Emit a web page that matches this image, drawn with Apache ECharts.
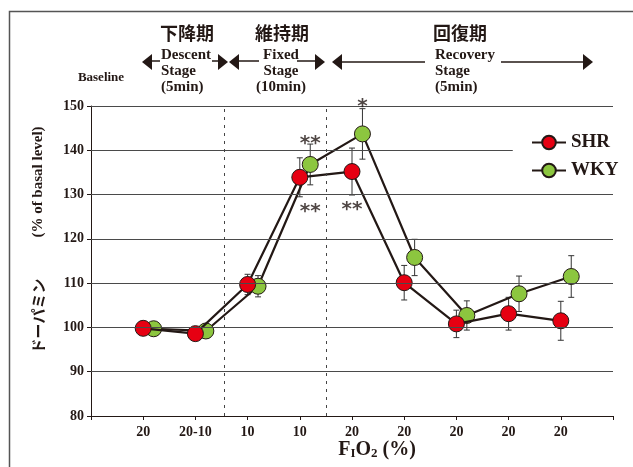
<!DOCTYPE html>
<html>
<head>
<meta charset="utf-8">
<script src="https://cdn.jsdelivr.net/npm/echarts@6/dist/echarts.min.js"></script>
<style>
  html, body { margin: 0; padding: 0; background: #fff; }
  #chart { width: 633px; height: 467px; }
</style>
</head>
<body>
<div id="chart"></div>
<script>
// FiO2 step sequence at each sampling point
const xTickLabels = ['20', '20-10', '10', '10', '20', '20', '20', '20', '20'];
const yTicks = [80, 90, 100, 110, 120, 130, 140, 150];

// Dopamine, % of basal level (mean and error)
const shrMean = [99.8, 98.6, 109.7, 133.9, 135.2, 110.1, 100.8, 103.1, 101.5];
const shrErr  = [1.0, 1.0, 2.3, 4.4, 5.3, 3.9, 3.1, 3.7, 4.4];
const wkyMean = [99.7, 99.2, 109.3, 136.8, 143.7, 115.8, 102.7, 107.6, 111.5];
const wkyErr  = [1.0, 1.0, 2.4, 4.6, 5.7, 4.1, 3.3, 4.0, 4.7];

// Significance marks: point index, group, side of the error bar
const marks = [
  { idx: 3, group: 'WKY', side: 'top', text: '**' },
  { idx: 4, group: 'WKY', side: 'top', text: '*' },
  { idx: 3, group: 'SHR', side: 'bottom', text: '**', shift: 'WKY' },
  { idx: 4, group: 'SHR', side: 'bottom', text: '**' }
];

const INK = '#231815';
const SERIF = '"Liberation Serif", "Times New Roman", serif';
const WKY_SHIFT = 0.2;   // WKY points are drawn slightly right of each sampling point

const xOf = (i, shift) => i + 1 + shift;
const shrData = shrMean.map((v, i) => [xOf(i, 0), v]);
const wkyData = wkyMean.map((v, i) => [xOf(i, WKY_SHIFT), v]);
const errData = shrMean.map((v, i) => [xOf(i, 0), v - shrErr[i], v + shrErr[i]])
  .concat(wkyMean.map((v, i) => [xOf(i, WKY_SHIFT), v - wkyErr[i], v + wkyErr[i]]));

const groups = { SHR: { mean: shrMean, err: shrErr, shift: 0 }, WKY: { mean: wkyMean, err: wkyErr, shift: WKY_SHIFT } };
const markData = marks.map(m => {
  const g = groups[m.group];
  const y = m.side === 'top' ? g.mean[m.idx] + g.err[m.idx] : g.mean[m.idx] - g.err[m.idx];
  const shift = m.shift ? groups[m.shift].shift : g.shift;
  const dy = m.side === 'top' ? (m.text === '*' ? -2 : 0) : 15;
  return { value: [xOf(m.idx, shift), y], label: { formatter: m.text, offset: [0, dy] } };
});

// Horizontal grid lines; the 140 line stops short of the legend
const gridLines = yTicks.filter(v => v > 80).map(v => [
  { coord: [0, v] }, { coord: [v === 140 ? 8.08 : 10, v] }
]);
const stageBounds = [2.55, 4.5];

function renderErr(params, api) {
  const x = api.value(0);
  const lo = api.coord([x, api.value(1)]);
  const hi = api.coord([x, api.value(2)]);
  const hw = 3;
  const st = { stroke: '#333', lineWidth: 1 };
  return {
    type: 'group',
    children: [
      { type: 'line', shape: { x1: hi[0], y1: hi[1], x2: lo[0], y2: lo[1] }, style: st },
      { type: 'line', shape: { x1: hi[0] - hw, y1: hi[1], x2: hi[0] + hw, y2: hi[1] }, style: st },
      { type: 'line', shape: { x1: lo[0] - hw, y1: lo[1], x2: lo[0] + hw, y2: lo[1] }, style: st }
    ]
  };
}

// Header: stage names and double arrows
function arrowHead(tipX, y, dir) {
  const L = 10, H = 8;
  return {
    type: 'polygon',
    shape: { points: [[tipX, y], [tipX - dir * L, y - H], [tipX - dir * L, y + H]] },
    style: { fill: INK }
  };
}
function seg(x1, x2, y) {
  return { type: 'line', shape: { x1: x1, y1: y, x2: x2, y2: y }, style: { stroke: INK, lineWidth: 1.5 } };
}
function txt(x, y, text, font, align) {
  return {
    type: 'text', x: x, y: y,
    style: { text: text, font: font, fill: INK, align: align || 'center', verticalAlign: 'middle', lineHeight: 16 }
  };
}
const AY = 62;
const stageFont = 'bold 15px ' + SERIF;
const jpFont = 'bold 18px "Noto Sans CJK JP", sans-serif';
const header = [
  txt(187, 33, '下降期', jpFont),
  txt(282, 33, '維持期', jpFont),
  txt(460, 33, '回復期', jpFont),
  txt(101, 78, 'Baseline', 'bold 13px ' + SERIF),
  arrowHead(142, AY, -1), seg(150, 160, AY - 1), seg(212, 220, AY - 1), arrowHead(228, AY, 1),
  txt(161, 71, 'Descent\nStage\n(5min)', stageFont, 'left'),
  arrowHead(229, AY, -1), seg(237, 259, AY - 1), seg(297, 317, AY - 1), arrowHead(325, AY, 1),
  txt(281, 71, 'Fixed\nStage\n(10min)', stageFont, 'center'),
  arrowHead(332, AY, -1), seg(340, 425, AY), seg(501, 585, AY), arrowHead(593, AY, 1),
  txt(435, 71, 'Recovery\nStage\n(5min)', stageFont, 'left'),
  // axis titles
  {
    type: 'text', x: 38, y: 182, rotation: Math.PI / 2,
    style: { text: '(% of basal level)', font: 'bold 15px ' + SERIF, fill: INK, align: 'center', verticalAlign: 'middle' }
  },
  {
    type: 'text', x: 38, y: 316, rotation: Math.PI / 2,
    style: { text: 'ドーパミン', font: 'bold 15px "Noto Sans CJK JP", sans-serif', fill: INK, align: 'center', verticalAlign: 'middle' }
  },
  {
    type: 'text', x: 377, y: 450,
    style: {
      text: '{b|F}{s|I}{b|O}{s|2}{b| (%)}', fill: INK, align: 'center', verticalAlign: 'middle',
      rich: {
        b: { font: 'bold 20px ' + SERIF, fill: INK },
        s: { font: 'bold 13px ' + SERIF, fill: INK, verticalAlign: 'bottom' }
      }
    }
  },
  // outer frame
  {
    type: 'rect', shape: { x: 9.5, y: 11.5, width: 640, height: 470 },
    style: { fill: 'none', stroke: '#555', lineWidth: 1.5 }, silent: true
  }
];

const chart = echarts.init(document.getElementById('chart'), null, { renderer: 'canvas' });
chart.setOption({
  backgroundColor: '#fff',
  animation: false,
  grid: { left: 91, right: 20, top: 106, bottom: 51, outerBoundsMode: 'none' },
  xAxis: {
    type: 'value', min: 0, max: 10, interval: 1,
    axisLine: { show: true, lineStyle: { color: INK, width: 1 } },
    axisTick: { show: true, inside: false, length: 4, lineStyle: { color: INK } },
    splitLine: { show: false },
    axisLabel: {
      margin: 9, color: INK, fontFamily: SERIF, fontWeight: 'bold', fontSize: 14,
      formatter: v => (v >= 1 && v <= 9) ? xTickLabels[v - 1] : ''
    }
  },
  yAxis: {
    type: 'value', min: 80, max: 150, interval: 10,
    axisLine: { show: true, lineStyle: { color: INK, width: 1 } },
    axisTick: { show: true, inside: false, length: 4, lineStyle: { color: INK } },
    splitLine: { show: false },
    axisLabel: { margin: 7, color: INK, fontFamily: SERIF, fontWeight: 'bold', fontSize: 14 }
  },
  legend: {
    data: ['SHR', 'WKY'],
    orient: 'vertical', left: 526, top: 128,
    itemWidth: 34, itemHeight: 17, itemGap: 9,
    textStyle: { color: INK, fontFamily: SERIF, fontWeight: 'bold', fontSize: 19 }
  },
  graphic: header,
  series: [
    {
      name: 'grid', type: 'line', data: [], silent: true,
      markLine: {
        silent: true, symbol: 'none', animation: false, label: { show: false },
        lineStyle: { color: '#4a4a4a', width: 1, type: 'solid' },
        data: gridLines.concat(stageBounds.map(x => ({
          xAxis: x, lineStyle: { color: '#444', width: 1, type: [3, 5] }
        })))
      }
    },
    {
      name: 'err', type: 'custom', renderItem: renderErr, data: errData, z: 1,
      encode: { x: 0, y: [1, 2] }, silent: true
    },
    {
      name: 'WKY', type: 'line', data: wkyData, z: 3,
      symbol: 'circle', symbolSize: 16,
      lineStyle: { color: INK, width: 2.2 },
      itemStyle: { color: '#8cc63f', borderColor: INK, borderWidth: 1 }
    },
    {
      name: 'SHR', type: 'line', data: shrData, z: 4,
      symbol: 'circle', symbolSize: 16,
      lineStyle: { color: INK, width: 2.2 },
      itemStyle: { color: '#e60012', borderColor: INK, borderWidth: 1 }
    },
    {
      name: 'marks', type: 'scatter', data: markData, symbolSize: 0, z: 5, silent: true,
      label: {
        show: true, position: 'inside', color: INK,
        fontFamily: '"DejaVu Sans", sans-serif', fontWeight: 'bold', fontSize: 20
      }
    }
  ]
});
</script>
</body>
</html>
